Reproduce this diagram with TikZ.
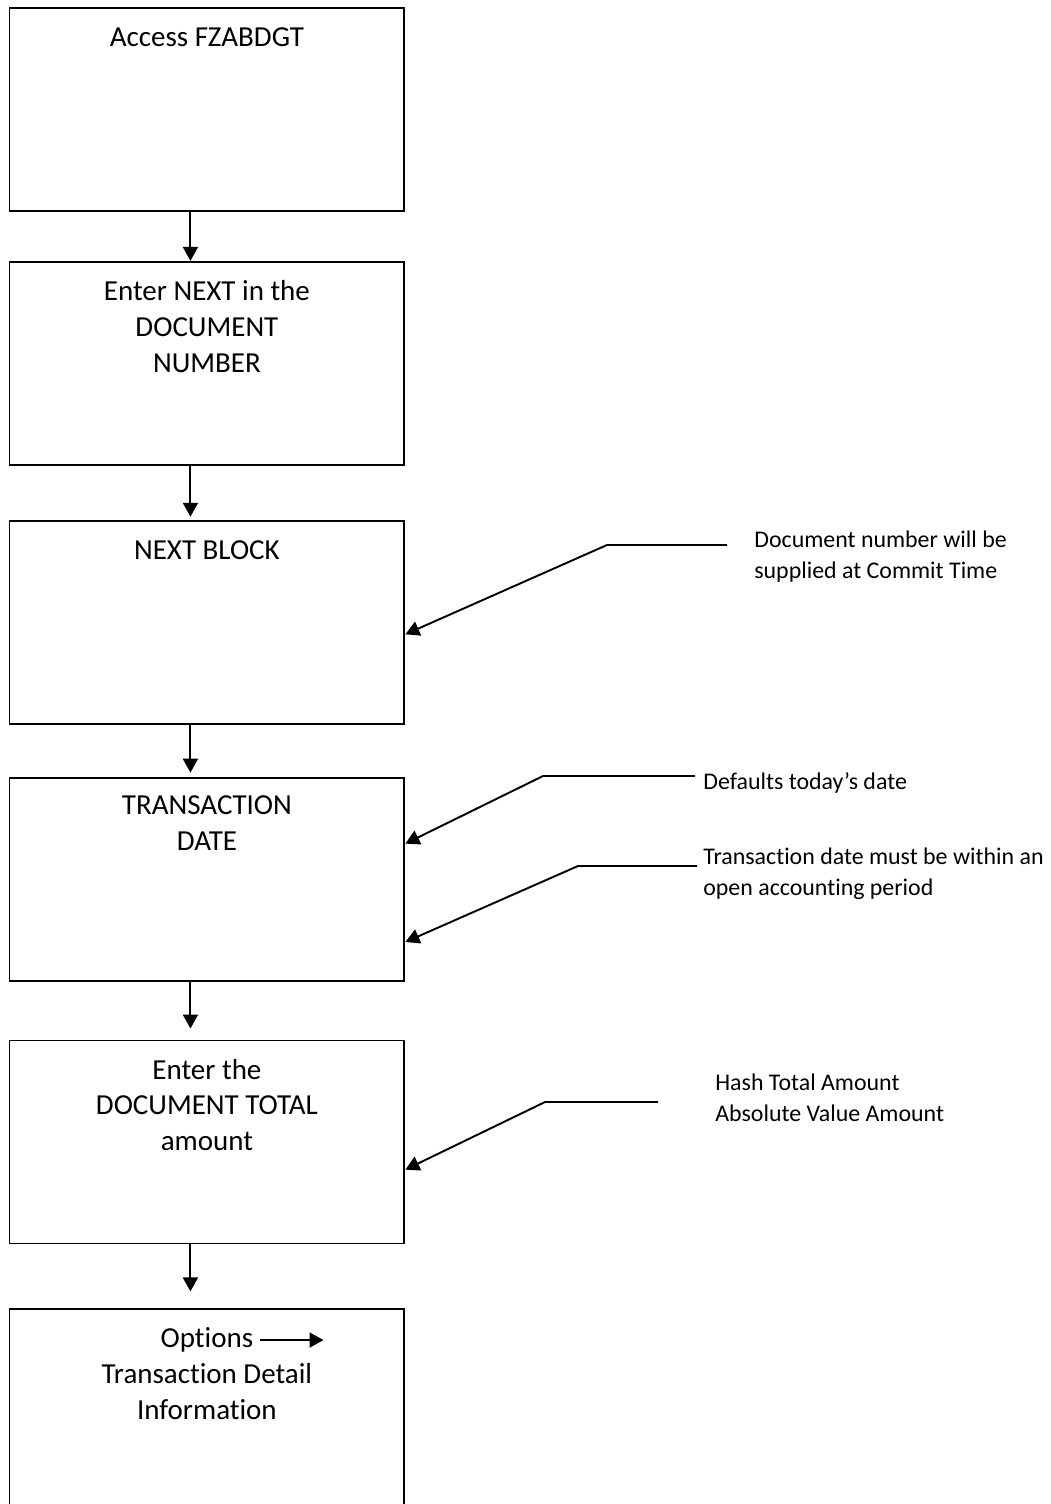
\documentclass[tikz,border=0pt]{standalone}
\usepackage{fontspec}
\setmainfont{Carlito}[RawFeature={-liga;-clig;-calt}]
\usetikzlibrary{calc,positioning,arrows.meta}
\tikzset{
  stepbox/.style={rectangle,draw=black,line width=1.1pt,minimum width=7.9cm,minimum height=4.06cm,inner sep=0pt},
  boxtext/.style={align=center,inner sep=0pt,font=\fontsize{16.5}{20.4}\selectfont},
  notetext/.style={align=left,inner sep=0pt,anchor=north west,font=\fontsize{13.6}{17.6}\selectfont},
  flow/.style={draw,line width=1.1pt,-{Triangle[length=0.28cm,width=0.3cm]}},
  callout/.style={draw,line width=1.1pt,-{Triangle[length=0.28cm,width=0.3cm]}}
}
\begin{document}
\begin{tikzpicture}[x=0.02cm,y=-0.02cm]
    \useasboundingbox (0,0) rectangle (1051,1504);

    % the six steps
    \node[stepbox,anchor=north west] (access) at (8.5,7) {};
    \node[stepbox,below=0.98cm of access] (next) {};
    \node[stepbox,below=1.08cm of next] (block) {};
    \node[stepbox,below=1.04cm of block] (tdate) {};
    \node[stepbox,below=1.16cm of tdate] (total) {};
    \node[stepbox,below=1.28cm of total] (options) {};

    \node[boxtext,below=0.4cm of access.north] (taccess) {Access FZABDGT};
    \node[boxtext,below=0.38cm of next.north] (tnext) {Enter NEXT in the\\ DOCUMENT\\ NUMBER};
    \node[boxtext,below=0.42cm of block.north] (tblock) {NEXT BLOCK};
    \node[boxtext,below=0.38cm of tdate.north] (ttdate) {TRANSACTION\\ DATE};
    \node[boxtext,below=0.38cm of total.north] (ttotal) {Enter the\\ DOCUMENT TOTAL\\ amount};
    \node[boxtext,below=0.38cm of options.north] (topt) {Options};
    \node[boxtext,below=0.2cm of topt] (tinfo) {Transaction Detail\\ Information};
    \coordinate[right=1.4cm of topt.east] (optend);

    % notes on the right
    \node[notetext] (ncommit) at (754,531) {Document number will be\\ supplied at Commit Time};
    \node[notetext] (ntoday) at (703,772) {Defaults today’s date};
    \node[notetext] (nperiod) at (703,848) {Transaction date must be within an\\ open accounting period};
    \node[notetext] (nhash) at (715,1074) {Hash Total Amount\\ Absolute Value Amount};

    \coordinate (ccommit) at (727,545);  \coordinate (kcommit) at (607,545);
    \coordinate (ctoday) at (695,776);   \coordinate (ktoday) at (543,776);
    \coordinate (cperiod) at (697,866);  \coordinate (kperiod) at (578,866);
    \coordinate (chash) at (658,1102);   \coordinate (khash) at (545,1102);

    \path[flow] ([xshift=-0.33cm]access.south) -- ([xshift=-0.33cm]next.north);
    \path[flow,shorten >=0.06cm] ([xshift=-0.33cm]next.south) -- ([xshift=-0.33cm]block.north);
    \path[flow,shorten >=0.08cm] ([xshift=-0.33cm]block.south) -- ([xshift=-0.33cm]tdate.north);
    \path[flow,shorten >=0.22cm] ([xshift=-0.33cm]tdate.south) -- ([xshift=-0.33cm]total.north);
    \path[flow,shorten >=0.34cm] ([xshift=-0.33cm]total.south) -- ([xshift=-0.33cm]options.north);
    \path[flow,shorten <=0.12cm] (topt.east) -- (optend);

    \path[callout] (ccommit) -- (kcommit) -- ($(block.north east)!0.559!(block.south east)$);
    \path[callout] (ctoday) -- (ktoday) -- ($(tdate.north east)!0.327!(tdate.south east)$);
    \path[callout] (cperiod) -- (kperiod) -- ($(tdate.north east)!0.807!(tdate.south east)$);
    \path[callout] (chash) -- (khash) -- ($(total.north east)!0.635!(total.south east)$);
\end{tikzpicture}
\end{document}
